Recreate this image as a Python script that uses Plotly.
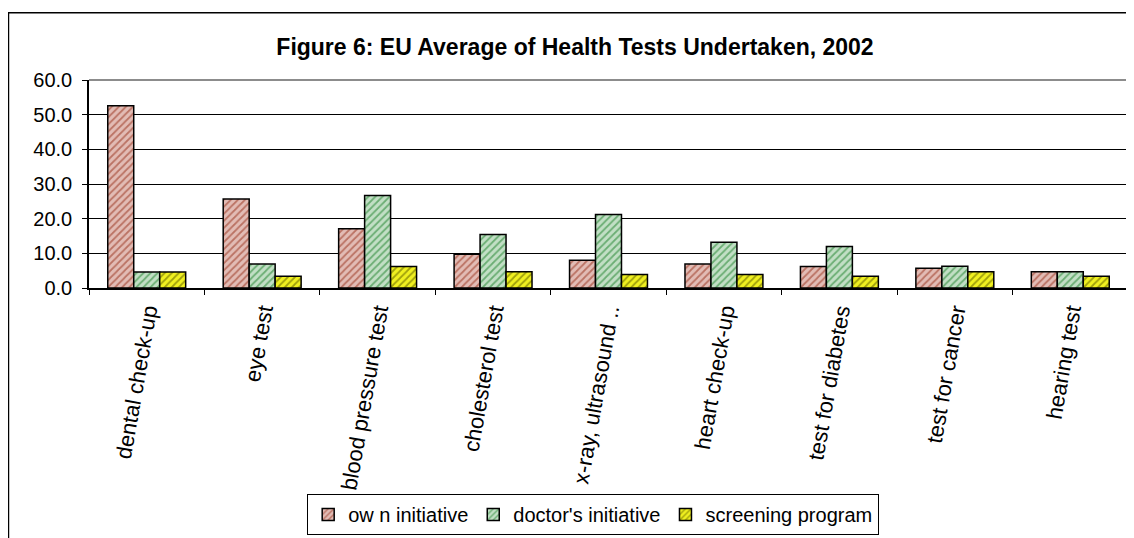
import plotly.graph_objects as go

categories = ["dental check-up", "eye test", "blood pressure test", "cholesterol test",
              "x-ray, ultrasound ..", "heart check-up", "test for diabetes",
              "test for cancer", "hearing test"]
own_initiative = [52.6, 25.7, 17.1, 9.7, 8.0, 6.9, 6.2, 5.7, 4.7]
doctors_initiative = [4.6, 6.9, 26.7, 15.4, 21.2, 13.2, 12.0, 6.3, 4.7]
screening_program = [4.6, 3.4, 6.2, 4.7, 3.9, 3.9, 3.4, 4.7, 3.4]
y_ticks = [0, 10, 20, 30, 40, 50, 60]

series = [
    ("ow n initiative", own_initiative, "#e2bcb5", "#a0402c"),
    ("doctor's initiative", doctors_initiative, "#c2dfc5", "#2f8c3c"),
    ("screening program", screening_program, "#f0f020", "#6a6a00"),
]

fig = go.Figure()
for name, vals, bg, fg in series:
    fig.add_trace(go.Bar(
        x=categories, y=vals, name=name,
        marker=dict(color=bg, line=dict(color="black", width=1.5),
                    pattern=dict(shape="/", fgcolor=fg, bgcolor=bg,
                                 size=5, solidity=0.35, fgopacity=0.6)),
    ))

font = "Arial, Liberation Sans, sans-serif"
# page body has an 8px margin, so margins are shifted by 8px
fig.update_layout(
    width=1134, height=538,
    margin=dict(l=81, r=14, t=72, b=256),
    paper_bgcolor="white", plot_bgcolor="white",
    barmode="group", bargap=0.325, bargroupgap=0,
    font=dict(family=font, size=20, color="black"),
    title=dict(text="<b>Figure 6: EU Average of Health Tests Undertaken, 2002</b>",
               x=0.5, xref="container", xanchor="center",
               y=0.9275, yanchor="middle",
               font=dict(size=23, family=font)),
    showlegend=True,
    legend=dict(orientation="h", x=0.21, xanchor="left", y=-0.99, yanchor="top",
                bgcolor="white", bordercolor="black", borderwidth=1,
                font=dict(size=20), itemwidth=30, tracegroupgap=0),
    xaxis=dict(tickangle=-80, tickson="boundaries", ticks="outside", ticklen=5,
               tickcolor="black", showline=True, linecolor="black", linewidth=1.5,
               tickfont=dict(size=22)),
    yaxis=dict(range=[0, 60], tickvals=y_ticks, tickformat=".1f", ticks="outside",
               ticklen=5, tickcolor="black", showline=True, linecolor="black",
               linewidth=1.5, showgrid=True, gridcolor="black", gridwidth=1,
               tickfont=dict(size=20), zeroline=False, ticklabelstandoff=6),
    shapes=[
        dict(type="line", xref="paper", yref="paper", x0=0, x1=1, y0=1, y1=1,
             line=dict(color="#8c8c8c", width=2), layer="above"),
        dict(type="line", xref="paper", yref="paper", x0=1, x1=1, y0=0, y1=1,
             line=dict(color="#8c8c8c", width=2), layer="above"),
        dict(type="rect", xref="paper", yref="paper", x0=-0.0775, x1=1.03,
             y0=-1.5, y1=1.3238, line=dict(color="black", width=1.5),
             layer="below"),
    ],
)

fig.write_html("out.html")
